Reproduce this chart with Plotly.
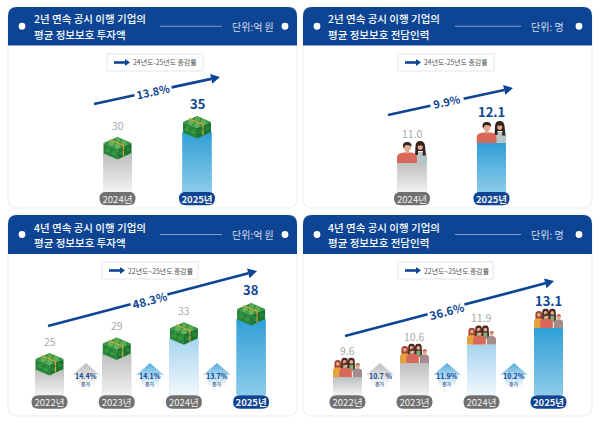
import base64, math
import plotly.graph_objects as go

# ---------- data ----------
years_2yr = ["2024년", "2025년"]
years_4yr = ["2022년", "2023년", "2024년", "2025년"]
invest_2yr = [30, 35]
staff_2yr = [11.0, 12.1]
invest_4yr = [25, 29, 33, 38]
staff_4yr = [9.6, 10.6, 11.9, 13.1]
invest_2yr_labels = ["30", "35"]
staff_2yr_labels = ["11.0", "12.1"]
invest_4yr_labels = ["25", "29", "33", "38"]
staff_4yr_labels = ["9.6", "10.6", "11.9", "13.1"]
invest_4yr_growth = ["14.4%", "14.1%", "13.7%"]
staff_4yr_growth = ["10.7 %", "11.9%", "10.2%"]
growth_word = "증가"
titles_invest_2yr = ["2년 연속 공시 이행 기업의", "평균 정보보호 투자액"]
titles_staff_2yr = ["2년 연속 공시 이행 기업의", "평균 정보보호 전담인력"]
titles_invest_4yr = ["4년 연속 공시 이행 기업의", "평균 정보보호 투자액"]
titles_staff_4yr = ["4년 연속 공시 이행 기업의", "평균 정보보호 전담인력"]
unit_invest = "단위:억 원"
unit_staff = "단위: 명"
legend_2yr = "24년도-25년도 증감률"
legend_4yr = "22년도~25년도 증감률"

# ---------- style ----------
W, H = 600, 424
FONT = "Noto Sans CJK KR"
NAVY = "#0d4594"
PILL = "#707070"
GREY_G = ["#f2f2f2", "#bdbfbf"]
PALE_G = ["#f1f8fd", "#a6d4ee"]
BLUE_G = ["#8ccbea", "#2f9fd6"]


def uri(svg):
    return "data:image/svg+xml;base64," + base64.b64encode(svg.encode()).decode()


MONEY = uri("""<svg xmlns='http://www.w3.org/2000/svg' width='116' height='96' viewBox='0 0 58 48'>
<polygon points='1,14 29,26 29,47 1,35' fill='#27853a'/>
<polygon points='29,26 57,14 57,34 29,47' fill='#1c7431'/>
<polygon points='29,2 57,14 29,26 1,14' fill='#2f8f3b'/>
<circle cx='17' cy='14' r='6' fill='#62b35a'/><circle cx='30' cy='8' r='5' fill='#58aa52'/>
<circle cx='42' cy='14' r='6' fill='#5cae55'/><circle cx='29' cy='20' r='5.5' fill='#62b35a'/>
<circle cx='10' cy='27' r='5' fill='#3a9a44'/><circle cx='22' cy='33' r='5' fill='#3a9a44'/>
<circle cx='36' cy='33' r='5' fill='#2b8a3a'/><circle cx='50' cy='26' r='4.5' fill='#2b8a3a'/>
<path d='M13 7 L41 19 L41 41' fill='none' stroke='#d8a63c' stroke-width='2.4'/>
<path d='M1 22 L29 34 L57 22' fill='none' stroke='#17692b' stroke-width='1'/>
</svg>""")

COUPLE = uri("""<svg xmlns='http://www.w3.org/2000/svg' width='120' height='96' viewBox='0 0 60 48'>
<path d='M34 48 L34 30 Q40 25 48 25 Q58 26 60 34 L60 48 Z' fill='#b6c5c5'/>
<path d='M37 14 Q38 4 46 4 Q55 4 56 14 L58 33 L51 33 L52 24 L42 24 L42 32 L36 32 Z' fill='#33231f'/>
<ellipse cx='46.5' cy='15' rx='5' ry='7' fill='#e5ab8e'/>
<path d='M38 14 Q40 7 47 7 Q53 8 55 14 Q47 12 38 14 Z' fill='#33231f'/>
<path d='M0 48 L0 35 Q2 28 14 27 L28 27 Q39 28 40 37 L40 48 Z' fill='#d8695a'/>
<rect x='17' y='22' width='7' height='7' fill='#e0a588'/>
<circle cx='20.5' cy='16' r='7.5' fill='#e5ab8e'/>
<path d='M12 16 Q11 6 20.5 6 Q30 6 29 15 Q25 11 18 12 Q15 13 14 18 Z' fill='#33231f'/>
</svg>""")

GROUP = uri("""<svg xmlns='http://www.w3.org/2000/svg' width='120' height='80' viewBox='0 0 60 40'>
<path d='M17 8 Q17 0 24 0 Q31 0 31 8 L32 27 L16 27 Z' fill='#4a2a22'/>
<path d='M31 8 Q31 0 38 0 Q45 0 45 8 L46 27 L30 27 Z' fill='#4a2a22'/>
<circle cx='24' cy='9' r='3.8' fill='#e5ab8e'/><circle cx='38' cy='9' r='3.8' fill='#e5ab8e'/>
<rect x='20' y='15' width='8' height='12' fill='#79b07a'/><rect x='34' y='15' width='8' height='12' fill='#79b07a'/>
<path d='M3 12 Q3 5 10 5 Q17 5 17 12 L17 23 L3 23 Z' fill='#a5432e'/>
<circle cx='10' cy='13' r='3.8' fill='#e5ab8e'/>
<path d='M0 40 L0 26 Q1 20 10 20 Q18 20 18 26 L18 40 Z' fill='#e6a23c'/>
<path d='M13 40 L13 27 Q14 21 26 21 Q38 21 39 27 L39 40 Z' fill='#d8695a'/>
<circle cx='26' cy='17' r='4.2' fill='#e5ab8e'/>
<path d='M21.5 17 Q21.5 10.5 26 10.5 Q31 10.5 30.5 16 Q26 13 21.5 17 Z' fill='#5c3026'/>
<path d='M41 40 L41 28 Q42 22 51 22 Q59 22 60 28 L60 40 Z' fill='#a78a8c'/>
<circle cx='51' cy='18' r='4.2' fill='#e5ab8e'/>
<path d='M46.5 17 Q46.5 11.5 51 11.5 Q56 11.5 55.5 17 Q51 14 46.5 17 Z' fill='#b0704a'/>
</svg>""")


def up_arrow(color):
    return uri(f"""<svg xmlns='http://www.w3.org/2000/svg' width='112' height='96' viewBox='0 0 28 24'>
<defs><linearGradient id='g' x1='0' y1='0' x2='0' y2='1'>
<stop offset='0' stop-color='{color}'/><stop offset='1' stop-color='#ffffff'/></linearGradient></defs>
<polygon points='14,0 28,12 23,12 23,24 5,24 5,12 0,12' fill='url(#g)'/></svg>""")


ARROW_GREY = up_arrow("#bdbdbd")
ARROW_BLUE = up_arrow("#55abdd")

# ---------- layout geometry in page pixels ----------
panels = [
    dict(L=8, R=297, T=7, B=208, head=45.5, axis_b=192, pill_c=198.5,
         c0=117.5, dx=79.5, v0=30, py0=153, k=4.2, line=(160, 222), unit_x=275, dots=(22, 285),
         legend=(107, 203, 54, 71), arrow=(94, 104, 220, 77), pct="13.8%", pct_pos=(153, 91), pct_size=11,
         years=years_2yr, vals=invest_2yr, labs=invest_2yr_labels, titles=titles_invest_2yr, unit=unit_invest,
         lg=legend_2yr, icon="money", growth=None),
    dict(L=303, R=592, T=7, B=208, head=45.5, axis_b=192, pill_c=198.5,
         c0=412, dx=79.5, v0=11.0, py0=163, k=18.2, line=(455, 521), unit_x=565, dots=(317, 579),
         legend=(398, 494, 54, 71), arrow=(388, 115, 513, 88), pct="9.9%", pct_pos=(447, 101), pct_size=11,
         years=years_2yr, vals=staff_2yr, labs=staff_2yr_labels, titles=titles_staff_2yr, unit=unit_staff,
         lg=legend_2yr, icon="couple", growth=None),
    dict(L=8, R=297, T=215, B=416, head=254, axis_b=395, pill_c=402,
         c0=49.5, dx=67.2, v0=25, py0=369, k=3.85, line=(160, 222), unit_x=275, dots=(22, 285),
         legend=(102, 198, 262, 279), arrow=(48, 326, 257, 271), pct="48.3%", pct_pos=(149, 300), pct_size=11.5,
         years=years_4yr, vals=invest_4yr, labs=invest_4yr_labels, titles=titles_invest_4yr, unit=unit_invest,
         lg=legend_4yr, icon="money", growth=invest_4yr_growth, g_x=(86, 150, 217)),
    dict(L=303, R=592, T=215, B=416, head=254, axis_b=395, pill_c=402,
         c0=347.5, dx=67, v0=9.6, py0=377, k=14, line=(455, 521), unit_x=565, dots=(317, 579),
         legend=(398, 493, 262, 279), arrow=(345, 336, 554, 281), pct="36.6%", pct_pos=(446, 311), pct_size=11.5,
         years=years_4yr, vals=staff_4yr, labs=staff_4yr_labels, titles=titles_staff_4yr, unit=unit_staff,
         lg=legend_4yr, icon="group", growth=staff_4yr_growth, g_x=(380, 447, 514)),
]


def X(p):
    return p / W


def Y(p):
    return 1 - p / H


def rpath(x0, y0, x1, y1, tl, tr, br, bl):
    return (f"M{X(x0+tl)},{Y(y0)} L{X(x1-tr)},{Y(y0)} Q{X(x1)},{Y(y0)} {X(x1)},{Y(y0+tr)} "
            f"L{X(x1)},{Y(y1-br)} Q{X(x1)},{Y(y1)} {X(x1-br)},{Y(y1)} "
            f"L{X(x0+bl)},{Y(y1)} Q{X(x0)},{Y(y1)} {X(x0)},{Y(y1-bl)} "
            f"L{X(x0)},{Y(y0+tl)} Q{X(x0)},{Y(y0)} {X(x0+tl)},{Y(y0)} Z")


shapes, annotations, images, traces = [], [], [], []
layout_axes = {}


def pshape(path, fill, layer="above", line=None, lw=0):
    shapes.append(dict(type="path", xref="paper", yref="paper", path=path, fillcolor=fill, layer=layer,
                       line=dict(color=line or fill, width=lw)))


def note(px, py, text, size, color, weight=400, anchor="center", angle=0):
    annotations.append(dict(x=X(px), y=Y(py), xref="paper", yref="paper", text=text, showarrow=False,
                            xanchor=anchor, yanchor="middle", textangle=angle, borderpad=0,
                            font=dict(family=FONT, size=size, color=color, weight=weight)))


def seg(x0, y0, x1, y1, width):
    shapes.append(dict(type="line", xref="paper", yref="paper", x0=X(x0), y0=Y(y0), x1=X(x1), y1=Y(y1),
                       line=dict(color=NAVY, width=width), layer="above"))


def arrow(x0, y0, x1, y1, width, hl, hw, gap_c=None, gap=0):
    a = math.atan2(y1 - y0, x1 - x0)
    bx, by = x1 - hl * math.cos(a), y1 - hl * math.sin(a)
    if gap_c:
        # project the label centre on the shaft and leave a gap there
        t = (gap_c[0] - x0) / math.cos(a)
        px, py = x0 + t * math.cos(a), y0 + t * math.sin(a)
        seg(x0, y0, px - gap * math.cos(a), py - gap * math.sin(a), width)
        seg(px + gap * math.cos(a), py + gap * math.sin(a), bx, by, width)
    else:
        seg(x0, y0, bx, by, width)
    nx, ny = -math.sin(a) * hw, math.cos(a) * hw
    pshape(f"M{X(x1)},{Y(y1)} L{X(bx+nx)},{Y(by+ny)} L{X(bx-nx)},{Y(by-ny)} Z", NAVY)


for n, p in enumerate(panels, start=1):
    # card
    pshape(rpath(p["L"], p["T"], p["R"], p["B"], 9, 9, 9, 9), "#ffffff", "below", "#ececec", 1)
    pshape(rpath(p["L"], p["T"], p["R"], p["head"], 9, 9, 0, 0), NAVY, "below")
    mid = (p["T"] + p["head"]) / 2
    for dx in p["dots"]:
        shapes.append(dict(type="circle", xref="paper", yref="paper", layer="below", fillcolor="#ffffff",
                           line=dict(width=0), x0=X(dx - 3.4), x1=X(dx + 3.4), y0=Y(mid + 3.4), y1=Y(mid - 3.4)))
    note(p["dots"][0] + 10.5, mid - 7.3, p["titles"][0], 10.5, "#ffffff", 500, "left")
    note(p["dots"][0] + 10.5, mid + 7.8, p["titles"][1], 10.5, "#ffffff", 500, "left")
    shapes.append(dict(type="line", xref="paper", yref="paper", layer="below", x0=X(p["line"][0]), x1=X(p["line"][1]),
                       y0=Y(mid), y1=Y(mid), line=dict(color="#9db4d6", width=0.8)))
    note(p["unit_x"], mid, p["unit"], 10, "#d3dcec", 400, "right")

    # legend box
    lx0, lx1, ly0, ly1 = p["legend"]
    shapes.append(dict(type="rect", xref="paper", yref="paper", layer="below", x0=X(lx0), x1=X(lx1), y0=Y(ly1), y1=Y(ly0),
                       fillcolor="#ffffff", line=dict(color="#e6e6e6", width=1)))
    ly = (ly0 + ly1) / 2
    arrow(lx0 + 7, ly, lx0 + 23, ly, 2.6, 5, 3.4)
    note(lx0 + 25, ly, p["lg"], 6.9, "#555555", 400, "left")

    # axes
    val = lambda py, p=p: p["v0"] + (p["py0"] - py) / p["k"]
    xv = lambda px, p=p: (px - p["c0"]) / p["dx"]
    sx = "" if n == 1 else str(n)
    layout_axes[f"xaxis{sx}"] = dict(
        domain=[X(p["L"]), X(p["R"])], range=[xv(p["L"]), xv(p["R"])], anchor=f"y{sx}", showgrid=False, zeroline=False,
        showline=False, ticks="", tickmode="array", tickvals=list(range(len(p["years"]))),
        ticktext=[f"<b>{y}</b>" if i == len(p["years"]) - 1 else y for i, y in enumerate(p["years"])],
        tickfont=dict(family=FONT, size=9.5, color="#f0f0f0"), fixedrange=True)
    layout_axes[f"yaxis{sx}"] = dict(
        domain=[Y(p["axis_b"]), Y(p["head"])], range=[val(p["axis_b"]), val(p["head"])], anchor=f"x{sx}",
        visible=False, fixedrange=True)

    # bars
    n_bars = len(p["vals"])
    bw = 29 / p["dx"]
    ybase = val(p["axis_b"])
    for i, v in enumerate(p["vals"]):
        last = i == n_bars - 1
        grad = BLUE_G if last else (PALE_G if (n_bars == 4 and i == 2) else GREY_G)
        traces.append(go.Bar(x=[i], y=[v], width=bw, marker=dict(color=grad[1], line=dict(width=0)),
                             xaxis=f"x{sx}", yaxis=f"y{sx}", showlegend=False, hoverinfo="skip"))
        traces.append(go.Scatter(x=[i - bw / 2, i - bw / 2, i + bw / 2, i + bw / 2], y=[ybase, v, v, ybase],
                                 mode="none", fill="toself", showlegend=False, hoverinfo="skip",
                                 fillgradient=dict(type="vertical", colorscale=[[0, grad[0]], [1, grad[1]]],
                                                   start=ybase, stop=v),
                                 xaxis=f"x{sx}", yaxis=f"y{sx}"))
        # pill
        cpx = p["c0"] + i * p["dx"]
        pshape(rpath(cpx - 18, p["pill_c"] - 6.8, cpx + 18, p["pill_c"] + 6.8, 6.8, 6.8, 6.8, 6.8),
               NAVY if last else PILL, "below")
        # icon
        if p["icon"] == "money":
            src, iw, ih, off, anc = MONEY, 29, 24, 5, "middle"
        elif p["icon"] == "couple":
            src, iw, ih, off, anc = COUPLE, 30, 24, 0, "bottom"
        else:
            src, iw, ih, off, anc = GROUP, 29, 19.5, 0, "bottom"
        images.append(dict(source=src, xref=f"x{sx}", yref=f"y{sx}", x=i, y=v + off / p["k"],
                           sizex=iw / p["dx"], sizey=ih / p["k"], xanchor="center", yanchor=anc,
                           sizing="stretch", layer="above"))
        # value label
        gap = {"money": 28, "couple": 30, "group": 27}[p["icon"]]
        if last:
            gap += 1
        annotations.append(dict(x=i, y=v, xref=f"x{sx}", yref=f"y{sx}", yshift=gap, text=p["labs"][i], showarrow=False,
                                xanchor="center", yanchor="middle",
                                font=dict(family=FONT, size=13 if last else 10.5, color=NAVY if last else "#a8a8a8",
                                          weight=700 if last else 400)))

    # trend arrow with a gap for its label
    ax0, ay0, ax1, ay1 = p["arrow"]
    half_gap = 19 if len(p["pct"]) == 5 else 17
    arrow(ax0, ay0, ax1, ay1, 2.6, 9, 5, gap_c=p["pct_pos"], gap=half_gap)
    ang = math.degrees(math.atan2(ay1 - ay0, ax1 - ax0))
    note(p["pct_pos"][0], p["pct_pos"][1], p["pct"], p["pct_size"], NAVY, 700, "center", ang)

    # small growth arrows
    if p["growth"]:
        for j, (gx, g) in enumerate(zip(p["g_x"], p["growth"])):
            images.append(dict(source=ARROW_GREY if j == 0 else ARROW_BLUE, xref="paper", yref="paper",
                               x=X(gx), y=Y(363), sizex=28 / W, sizey=24 / H, xanchor="center", yanchor="top",
                               sizing="stretch", layer="above"))
            note(gx, 376, g, 7, NAVY, 700)
            note(gx, 383.5, growth_word, 5, "#3a5a94", 500)

fig = go.Figure(traces)
fig.update_layout(
    width=W, height=H, autosize=False, margin=dict(l=0, r=0, t=0, b=0, pad=0),
    paper_bgcolor="#ffffff", plot_bgcolor="rgba(0,0,0,0)", showlegend=False, barmode="overlay",
    shapes=shapes, annotations=annotations, images=images, font=dict(family=FONT), **layout_axes)
fig.write_html("out.html", config=dict(displayModeBar=False, responsive=False),
               post_script="document.body.style.margin='0';")
